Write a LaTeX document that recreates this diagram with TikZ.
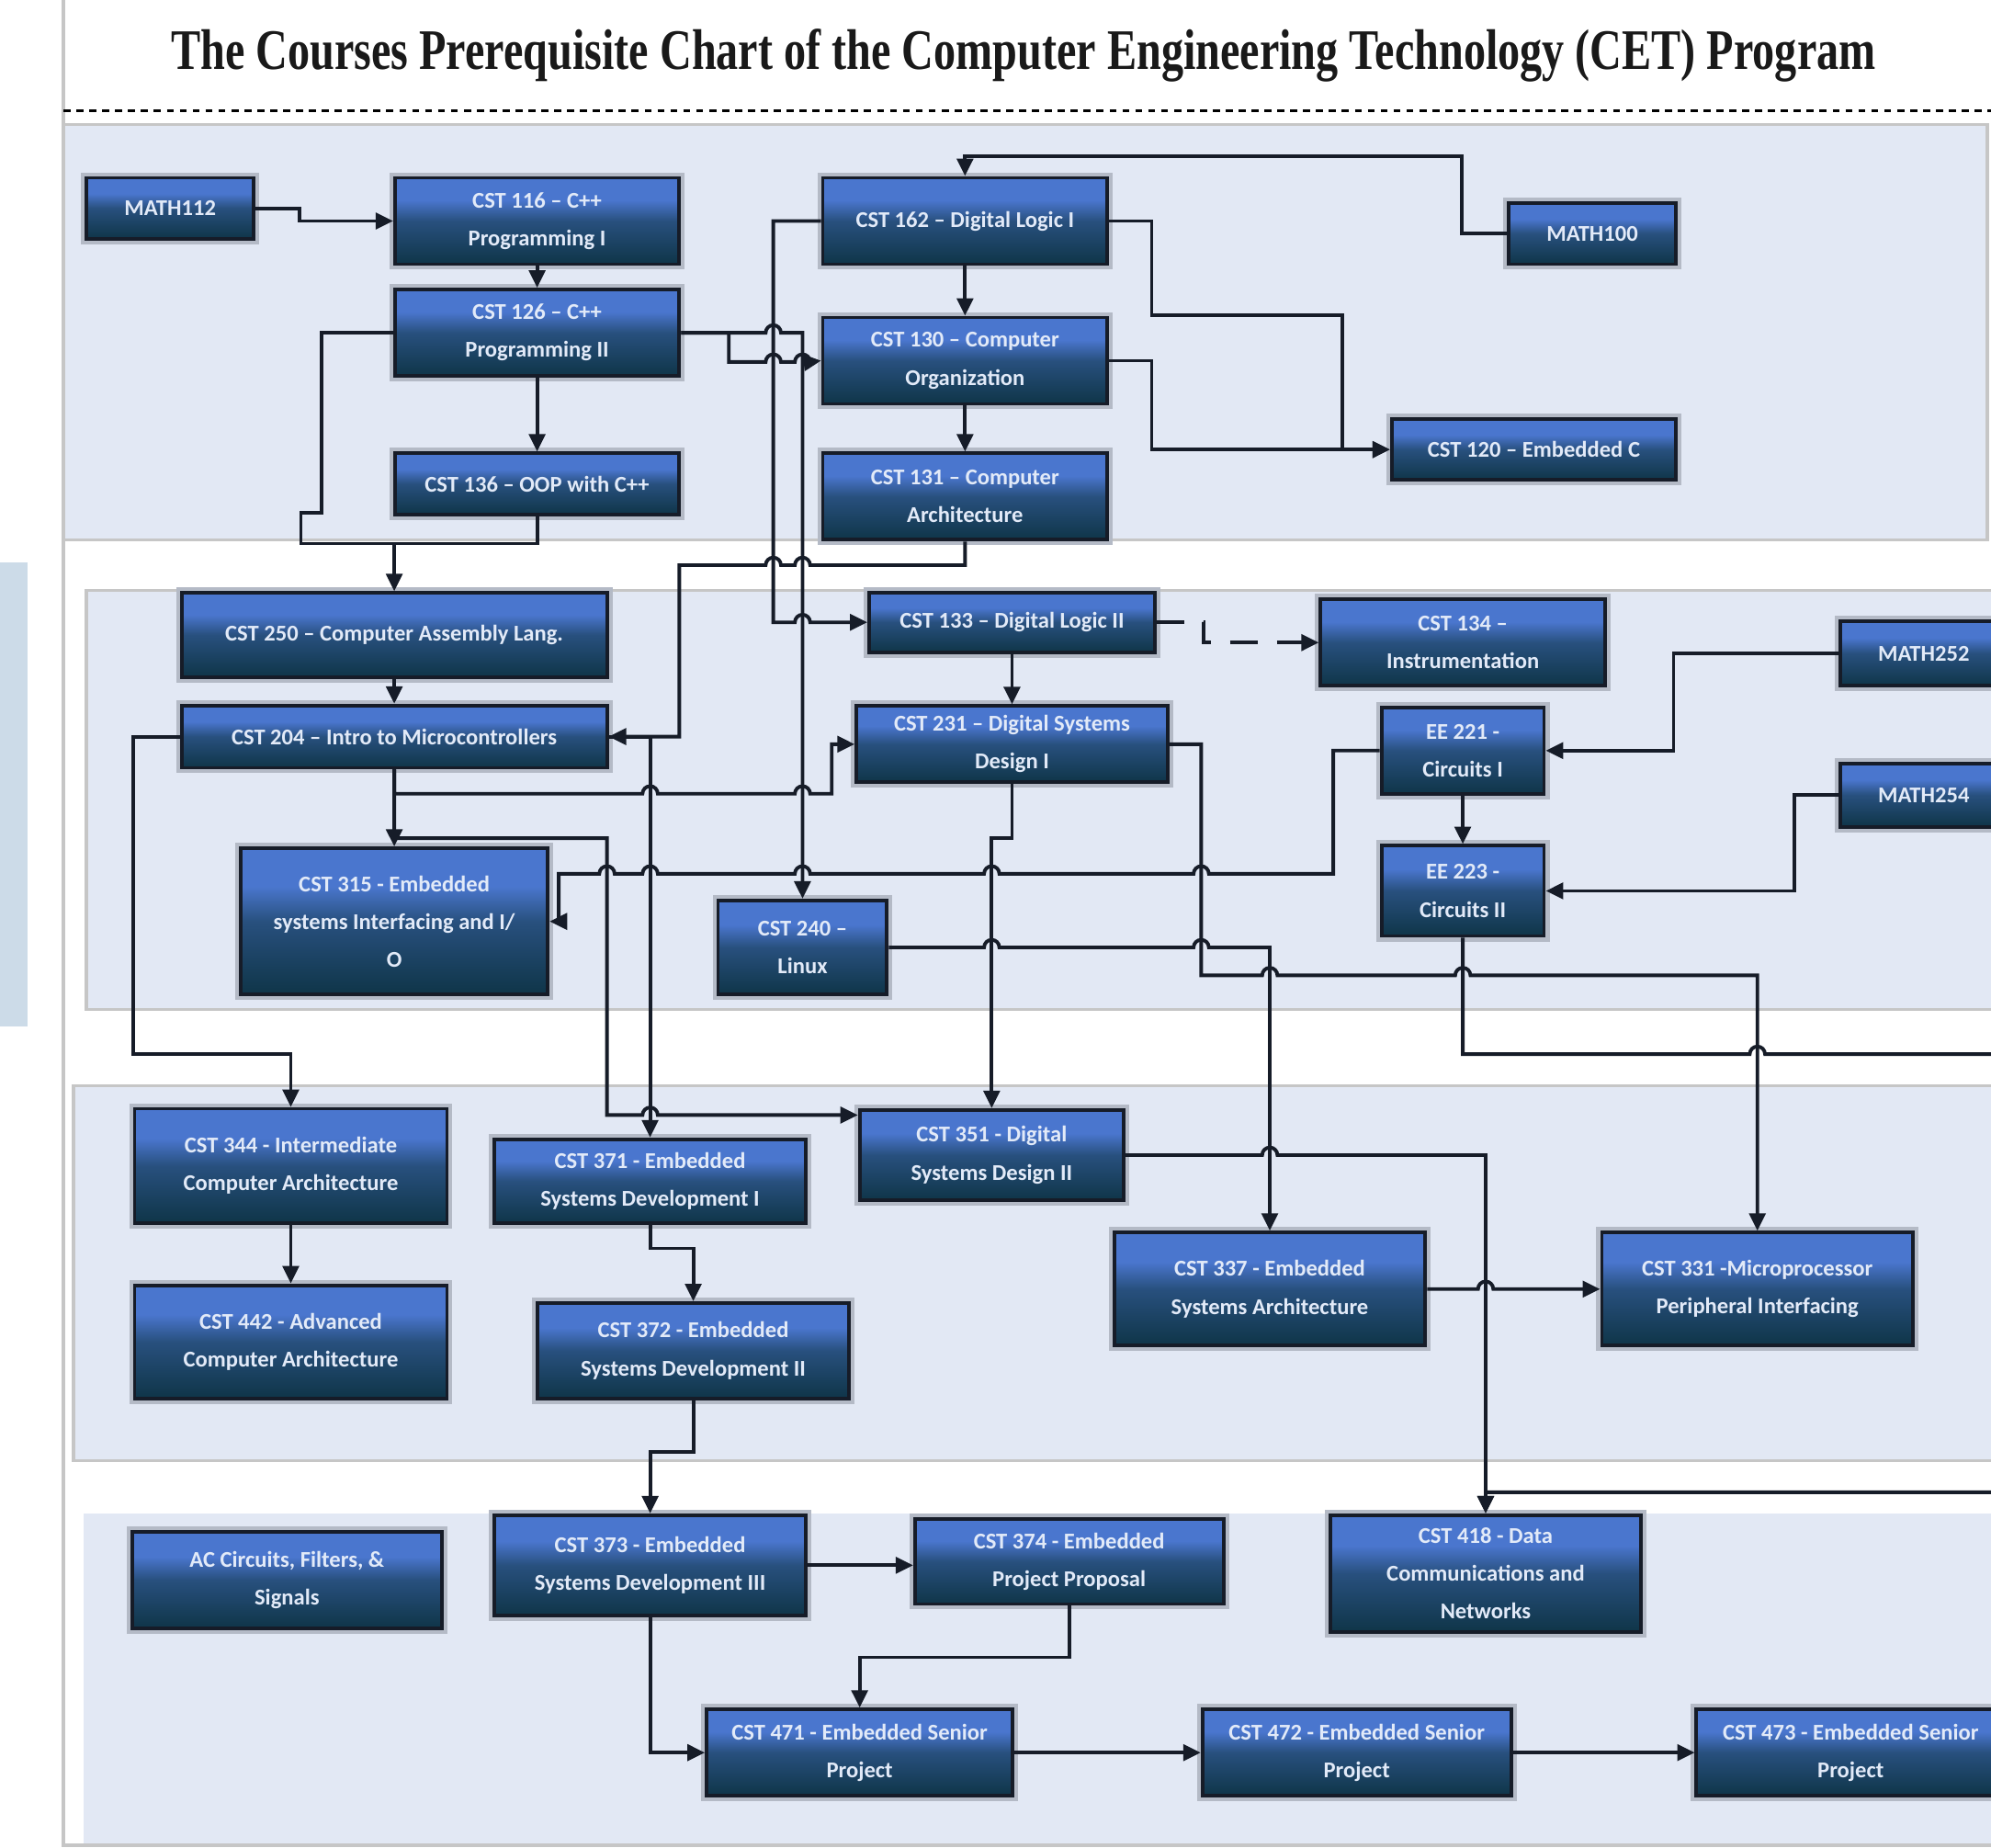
\documentclass[tikz,border=0pt]{standalone}
\usepackage{graphicx}
\usepackage{fontspec}
\setmainfont{Liberation Serif}
\newfontfamily\boxfont{Carlito}
\usetikzlibrary{arrows.meta}
\definecolor{bandfill}{HTML}{E2E8F4}
\definecolor{bandline}{HTML}{C6C6C6}
\definecolor{stripfill}{HTML}{CCDBE8}
\definecolor{boxline}{HTML}{161C28}
\definecolor{wirecol}{HTML}{161C28}
\definecolor{boxtop}{HTML}{7F9EDC}
\definecolor{boxmid}{HTML}{4A76CE}
\definecolor{boxlow}{HTML}{28507E}
\definecolor{boxbot}{HTML}{0F3548}
\definecolor{boxtext}{HTML}{E2EAF8}
\definecolor{boxhalo}{HTML}{B4BAC6}
\pgfdeclareverticalshading{coursefill}{100bp}{color(0bp)=(boxbot); color(25bp)=(boxbot); color(50bp)=(boxlow); color(62bp)=(boxmid); color(75bp)=(boxmid); color(100bp)=(boxtop)}
% line hops over a vertical wire at x=#1, y=#2
\newcommand{\hopr}[2]{-- (#1-6,#2) arc[start angle=180,end angle=360,radius=6]}
\newcommand{\hopl}[2]{-- (#1+6,#2) arc[start angle=0,end angle=-180,radius=6]}

\begin{document}
\begin{tikzpicture}[x=0.01382cm, y=-0.01382cm,
    course/.style={rectangle, draw=boxline, line width=1.1pt, inner sep=0pt, align=center,
        shading=coursefill, text=boxtext,
        font=\boxfont\bfseries\fontsize{7}{11.7}\selectfont,
        preaction={draw=boxhalo, line width=3.4pt}},
    sz/.style 2 args={minimum width=#1*0.01382cm, minimum height=#2*0.01382cm},
    wire/.style={line width=1.1pt, draw=wirecol},
    arr/.style={wire, -{Triangle[length=5.4pt,width=5pt]}},
    band/.style={fill=bandfill, draw=bandline, line width=1pt}
]
\useasboundingbox (0,0) rectangle (1568,1455);
\clip (0,0) rectangle (1568,1455);

% page frame and year bands
\fill[stripfill] (0,443) rectangle (22,808);
\fill[bandfill] (66,1192) rectangle (1575,1453);
\draw[bandline, line width=1pt] (50,0) -- (50,1453) -- (1575,1453);
\draw[band] (50,98) rectangle (1565,425);
\draw[band] (68,465) rectangle (1575,795);
\draw[band] (58,855) rectangle (1575,1150);

\node[text=black!90, font=\bfseries] (title) at (806,44)
    {\resizebox{528pt}{12.5pt}{The Courses Prerequisite Chart of the Computer Engineering Technology (CET) Program}};
\draw[black, line width=0.9pt, dash pattern=on 2.2pt off 1.8pt] (50,87) -- (1568,87);

% first year
\node[course, sz={132}{48}] (MATH112) at (134,164) {MATH112};
\node[course, sz={224}{68}] (CST116) at (423,174) {CST 116 \textendash{} C++\\Programming I};
\node[course, sz={224}{68}] (CST126) at (423,262) {CST 126 \textendash{} C++\\Programming II};
\node[course, sz={224}{48}] (CST136) at (423,381) {CST 136 \textendash{} OOP with C++};
\node[course, sz={224}{68}] (CST162) at (760,174) {CST 162 \textendash{} Digital Logic I};
\node[course, sz={224}{68}] (CST130) at (760,284) {CST 130 \textendash{} Computer\\Organization};
\node[course, sz={224}{68}] (CST131) at (760,391) {CST 131 \textendash{} Computer\\Architecture};
\node[course, sz={132}{48}] (MATH100) at (1254,184) {MATH100};
\node[course, sz={224}{48}] (CST120) at (1208,354) {CST 120 \textendash{} Embedded C};

% second year
\node[course, sz={335}{66}] (CST250) at (310.5,500) {CST 250 \textendash{} Computer Assembly Lang.};
\node[course, sz={335}{49}] (CST204) at (310.5,580) {CST 204 \textendash{} Intro to Microcontrollers};
\node[course, sz={242}{115}] (CST315) at (310.5,725.5) {CST 315 - Embedded\\systems Interfacing and I/\\O};
\node[course, sz={133}{74}] (CST240) at (632,746) {CST 240 \textendash\\Linux};
\node[course, sz={225}{47}] (CST133) at (797,490) {CST 133 \textendash{} Digital Logic II};
\node[course, sz={245}{60}] (CST231) at (797,586) {CST 231 \textendash{} Digital Systems\\Design I};
\node[course, sz={224}{68}] (CST134) at (1152,506) {CST 134 \textendash\\Instrumentation};
\node[course, sz={128}{68}] (EE221) at (1152,591) {EE 221 -\\Circuits I};
\node[course, sz={128}{71}] (EE223) at (1152,701.5) {EE 223 -\\Circuits II};
\node[course, sz={132}{51}] (MATH252) at (1515,514.5) {MATH252};
\node[course, sz={132}{50}] (MATH254) at (1515,626) {MATH254};

% third year
\node[course, sz={246}{90}] (CST344) at (229,918) {CST 344 - Intermediate\\Computer Architecture};
\node[course, sz={246}{89}] (CST442) at (229,1056.5) {CST 442 - Advanced\\Computer Architecture};
\node[course, sz={245}{66}] (CST371) at (512,930) {CST 371 - Embedded\\Systems Development I};
\node[course, sz={245}{75}] (CST372) at (546,1063.5) {CST 372 - Embedded\\Systems Development II};
\node[course, sz={208}{71}] (CST351) at (781,909.5) {CST 351 - Digital\\Systems Design II};
\node[course, sz={245}{89}] (CST337) at (1000,1015) {CST 337 - Embedded\\Systems Architecture};
\node[course, sz={245}{89}] (CST331) at (1384,1015) {CST 331 -Microprocessor\\Peripheral Interfacing};

% fourth year
\node[course, sz={244}{76}] (AC) at (226,1244) {AC Circuits, Filters, \&\\Signals};
\node[course, sz={245}{79}] (CST373) at (512,1232.5) {CST 373 - Embedded\\Systems Development III};
\node[course, sz={243}{67}] (CST374) at (842,1229.5) {CST 374 - Embedded\\Project Proposal};
\node[course, sz={245}{92}] (CST418) at (1170,1239) {CST 418 - Data\\Communications and\\Networks};
\node[course, sz={241}{68}] (CST471) at (677,1380) {CST 471 - Embedded Senior\\Project};
\node[course, sz={243}{68}] (CST472) at (1068.5,1380) {CST 472 - Embedded Senior\\Project};
\node[course, sz={243}{68}] (CST473) at (1457.5,1380) {CST 473 - Embedded Senior\\Project};

% prerequisites
\draw[arr] (MATH112.east) -- (236,164) |- (CST116.west);
\draw[arr] (CST116) -- (CST126);
\draw[arr] (CST126) -- (CST136);
\draw[arr] (CST162) -- (CST130);
\draw[arr] (CST130) -- (CST131);
\draw[arr] (MATH100.west) -| (1151,123) -| (CST162.north);
\draw[arr] (CST162.east) -| (907,248) -| (1057,354) -- (CST120.west);
\draw[arr] (CST130.east) -| (907,354) -- (CST120.west);
\draw[arr] (CST126.east) -- (574,262) -- (574,285) \hopr{609}{285} \hopr{632}{285} -- (CST130.west);
\draw[arr] (CST126.east) -- (574,262) \hopr{609}{262} -- (632,262) -- (CST240.north);
\draw[arr] (CST162.west) -- (609,174) -- (609,490) \hopr{632}{490} -- (CST133.west);
\draw[wire] (CST136.south) |- (310.5,428);
\draw[arr] (CST126.west) -| (253,404) -| (237,428) -- (310.5,428) -- (CST250.north);
\draw[arr] (CST131.south) -- (760,445) \hopl{632}{445} \hopl{609}{445} -- (535,445) |- (CST204.east);
\draw[arr] (CST204.east) -- (512,580) -- (CST371.north);

\draw[arr] (CST250) -- (CST204);
\draw[arr] (CST204) -- (CST315);
\draw[arr] (CST204.west) -| (105,830) -| (CST344.north);
\draw[arr] (CST204.south) -- (310.5,625) \hopr{512}{625} \hopr{632}{625} -- (655,625) |- (CST231.west);
\draw[arr] (CST204.south) -- (310.5,660) -- (478,660) -- (478,878) \hopr{512}{878} -- (CST351.west |- 0,878);
\draw[arr] (EE221.west) -| (1050,688) \hopl{946}{688} \hopl{781}{688} \hopl{632}{688} \hopl{512}{688} \hopl{478}{688} -- (440,688) |- (CST315.east);
\draw[arr] (CST133) -- (CST231);
\draw[arr, dash pattern=on 8.5pt off 6pt] (CST133.east) -- (948,490) |- (CST134.west);
\draw[arr] (CST231.south) -- (797,660) -- (781,660) -- (CST351.north);
\draw[arr] (CST240.east) \hopr{781}{746} \hopr{946}{746} -- (1000,746) -- (CST337.north);
\draw[arr] (CST231.east) -| (946,768) \hopr{1000}{768} \hopr{1152}{768} -- (1384,768) -- (CST331.north);
\draw[arr] (EE223.south) -- (1152,830) \hopr{1384}{830} -- (1610,830) |- (1170,1175) -- (CST418.north);
\draw[arr] (EE221) -- (EE223);
\draw[arr] (MATH252.west) -| (1318,591) -- (EE221.east);
\draw[arr] (MATH254.west) -| (1413,701.5) -- (EE223.east);

\draw[arr] (CST351.east) \hopr{1000}{909.5} -- (1170,909.5) -- (CST418.north);
\draw[arr] (CST337.east) \hopr{1170}{1015} -- (CST331.west);
\draw[arr] (CST344) -- (CST442);
\draw[arr] (CST371.south) -- (512,983) -| (CST372.north);
\draw[arr] (CST372.south) -- (546,1143) -| (CST373.north);

\draw[arr] (CST373.east) -- (CST374.west |- CST373.east);
\draw[arr] (CST373.south) |- (CST471.west);
\draw[arr] (CST374.south) -- (842,1305) -| (CST471.north);
\draw[arr] (CST471) -- (CST472);
\draw[arr] (CST472) -- (CST473);
\end{tikzpicture}
\end{document}
